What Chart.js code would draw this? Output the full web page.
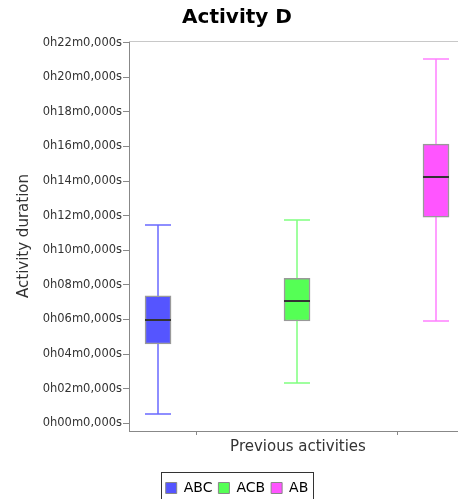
<!DOCTYPE html>
<html>
<head>
<meta charset="utf-8">
<script src="https://cdn.jsdelivr.net/npm/chart.js@4.4.1/dist/chart.umd.min.js"></script>
<style>
    html, body { margin: 0; padding: 0; background: #fff; overflow: hidden; }
    #wrap { width: 467px; height: 499px; position: relative; }
</style>
</head>
<body>
<div id="wrap"><canvas id="boxChart"></canvas></div>
<script>
// Séries (minutes)
const seriesNames = ["ABC", "ACB", "AB"];
const seriesPos = [1, 2, 3];
const whiskerMin = [0.56, 2.31, 5.91];
const q1Values = [4.58, 5.91, 11.91];
const medianValues = [5.97, 7.07, 14.25];
const q3Values = [7.36, 8.38, 16.14];
const whiskerMax = [11.46, 11.75, 21.06];

const yTicks = [0, 2, 4, 6, 8, 10, 12, 14, 16, 18, 20, 22];
const xTickMarks = [1.28, 2.72];

const fillColors = ["#5555ff", "#55ff55", "#ff55ff"];
const whiskerColors = ["#6a6aff", "#80ff80", "#ff80ff"];

function formatDuration(v) {
    return "0h" + String(v).padStart(2, "0") + "m0,000s";
}

// Moustaches + médiane + cadres
const boxPlotPlugin = {
    id: "boxPlot",
    beforeDatasetsDraw(chart) {
        const { ctx, scales: { x, y } } = chart;
        ctx.save();
        ctx.lineWidth = 1.5;
        seriesNames.forEach((name, i) => {
            const cx = Math.round(x.getPixelForValue(seriesPos[i]));
            const half = 13;
            const top = Math.round(y.getPixelForValue(whiskerMax[i]));
            const bot = Math.round(y.getPixelForValue(whiskerMin[i]));
            ctx.strokeStyle = whiskerColors[i];
            ctx.beginPath();
            ctx.moveTo(cx, top); ctx.lineTo(cx, bot);
            ctx.moveTo(cx - half, top); ctx.lineTo(cx + half, top);
            ctx.moveTo(cx - half, bot); ctx.lineTo(cx + half, bot);
            ctx.stroke();
        });
        ctx.restore();
    },
    afterDatasetsDraw(chart) {
        const { ctx, scales: { x, y } } = chart;
        ctx.save();
        ctx.strokeStyle = "#333";
        ctx.lineWidth = 2;
        seriesNames.forEach((name, i) => {
            const cx = Math.round(x.getPixelForValue(seriesPos[i]));
            const my = Math.round(y.getPixelForValue(medianValues[i]));
            ctx.beginPath();
            ctx.moveTo(cx - 13, my); ctx.lineTo(cx + 13, my);
            ctx.stroke();
        });
        // contour du graphique (haut)
        const a = chart.chartArea;
        ctx.strokeStyle = "#c8c8c8";
        ctx.lineWidth = 1;
        ctx.beginPath();
        ctx.moveTo(a.left, Math.round(a.top) + 0.5); ctx.lineTo(a.right, Math.round(a.top) + 0.5);
        ctx.stroke();
        // cadre de la légende
        const hb = chart.legend.legendHitBoxes;
        if (hb && hb.length) {
            const last = hb[hb.length - 1];
            const l = Math.round(hb[0].left) - 4.5;
            const r = Math.round(last.left + last.width) + 5.5;
            const t = Math.round(hb[0].top + hb[0].height / 2) - 15.5;
            ctx.strokeStyle = "#333";
            ctx.strokeRect(l, t, r - l, 40);
        }
        ctx.restore();
    }
};

const datasets = seriesNames.map((name, i) => ({
    label: name,
    data: [{ x: seriesPos[i], y: [q1Values[i], q3Values[i]] }],
    backgroundColor: fillColors[i],
    borderColor: "#999999",
    borderWidth: 1.5,
    borderSkipped: false,
    barThickness: 26,
    grouped: false
}));

new Chart(document.getElementById("boxChart"), {
    type: "bar",
    data: { datasets },
    plugins: [boxPlotPlugin],
    options: {
        responsive: true,
        maintainAspectRatio: false,
        animation: false,
        layout: { padding: { left: 7, right: 0, top: 0, bottom: 0 } },
        plugins: {
            title: {
                display: true,
                text: "Activity D",
                color: "#000",
                font: { family: "DejaVu Sans", size: 20, weight: "bold" },
                padding: { top: 6, bottom: 11 }
            },
            legend: {
                position: "bottom",
                maxHeight: 24,
                labels: {
                    color: "#000",
                    font: { family: "DejaVu Sans", size: 14 },
                    boxWidth: 11,
                    boxHeight: 11,
                    padding: 6,
                    generateLabels(chart) {
                        return seriesNames.map((n, i) => ({
                            text: n,
                            fillStyle: fillColors[i],
                            strokeStyle: "#888888",
                            lineWidth: 1,
                            datasetIndex: i
                        }));
                    }
                }
            },
            tooltip: { enabled: false }
        },
        scales: {
            x: {
                type: "linear",
                offset: false,
                min: 0.791,
                max: 3.223,
                afterBuildTicks(scale) {
                    scale.ticks = xTickMarks.map(v => ({ value: v }));
                },
                afterFit(scale) { scale.height = 44; },
                ticks: { callback: () => "", padding: 0 },
                grid: { offset: false, drawOnChartArea: false, tickLength: 4, color: "#888" },
                border: { color: "#888" },
                title: {
                    display: true,
                    text: "Previous activities",
                    color: "#333",
                    font: { family: "DejaVu Sans", size: 15 },
                    padding: { top: 0, bottom: 19 }
                }
            },
            y: {
                min: -0.45,
                max: 22.1,
                afterBuildTicks(scale) {
                    scale.ticks = yTicks.map(v => ({ value: v }));
                },
                afterFit(scale) { scale.width = 122; },
                ticks: {
                    callback: v => formatDuration(v),
                    color: "#333",
                    font: { family: "DejaVu Sans", size: 11.5 },
                    padding: 1
                },
                grid: { drawOnChartArea: false, tickLength: 6, color: "#888" },
                border: { color: "#888" },
                title: {
                    display: true,
                    text: "Activity duration",
                    color: "#333",
                    font: { family: "DejaVu Sans", size: 15 },
                    padding: { top: 8, bottom: 0 }
                }
            }
        }
    }
});
</script>
</body>
</html>
